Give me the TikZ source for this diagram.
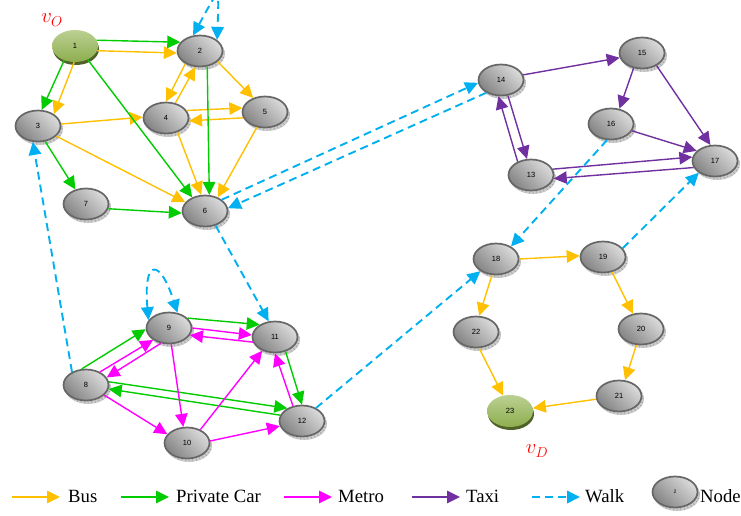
\documentclass[tikz,border=0pt]{standalone}
\usepackage{fontspec}
\setmainfont{Liberation Serif}
\newfontfamily\numfont{Liberation Sans}
\usetikzlibrary{arrows.meta,shapes.geometric}
\definecolor{busc}{HTML}{FFC000}
\definecolor{carc}{HTML}{00CC00}
\definecolor{metroc}{HTML}{FF00FF}
\definecolor{taxic}{HTML}{7030A0}
\definecolor{walkc}{HTML}{00B0F0}
\definecolor{greentop}{HTML}{BBD092}
\definecolor{greenbot}{HTML}{8DAE4E}
\definecolor{greenrim}{HTML}{4F6228}
\definecolor{rimc}{HTML}{666666}
\tikzset{
  x=1pt,y=-1pt,
  station/.style={ellipse,minimum width=45pt,minimum height=31pt,inner sep=0pt,draw=rimc,line width=1.7pt,
    left color=black!14,right color=black!48,shading angle=-45,font=\numfont\fontsize{7.5}{8}\selectfont,text=black},
  terminal/.style={ellipse,minimum width=46pt,minimum height=32pt,inner sep=0pt,
    top color=greentop,bottom color=greenbot,font=\numfont\fontsize{7.5}{8}\selectfont,text=black},
  plate/.style={fill=black!20},
  platetick/.style={draw=black!38,line width=2pt,dash pattern=on .6pt off 3pt},
  termplate/.style={fill=greenrim},
  link/.style={-{Triangle[length=13pt,width=12.5pt]},line width=1.4pt},
  bus/.style={link,draw=busc},
  car/.style={link,draw=carc},
  metro/.style={link,draw=metroc},
  taxi/.style={link,draw=taxic},
  walk/.style={link,draw=walkc,line width=1.9pt,dash pattern=on 8pt off 5pt},
  walkloop/.style={walk,{Triangle[length=13pt,width=12.5pt]}-{Triangle[length=13pt,width=12.5pt]}},
  legendtext/.style={anchor=west,inner sep=0pt,font=\fontsize{18.7}{20}\selectfont},
  vlabel/.style={text=red,inner sep=0pt,font=\fontsize{22}{24}\selectfont},
}
\begin{document}
\begin{tikzpicture}
\useasboundingbox (0,0) rectangle (741,516);
\clip (0,0) rectangle (741,516);
% plates under the nodes
\foreach \x/\y in {200/51,38/126,166/118,265/112,205/211,86/204,86/385,169/328,187/443,275/337,302/421,531/175,501/80,642/53,611/124,715/161,496/259,603/257,641/329,619/396,476/332,675/492}{
  \fill[plate] (\x+2,\y+3) ellipse [x radius=23,y radius=16];
  \draw[platetick] (\x+2,\y+2.5) ellipse [x radius=22,y radius=15];
}
\foreach \x/\y in {75/46,510/411}
  \fill[termplate] (\x+1,\y+3) ellipse [x radius=23,y radius=16];
% nodes
\foreach \n/\x/\y in {2/200/51,3/38/126,4/166/118,5/265/112,6/205/211,7/86/204,8/86/385,9/169/328,10/187/443,11/275/337,12/302/421,13/531/175,14/501/80,15/642/53,16/611/124,17/715/161,18/496/259,19/603/257,20/641/329,21/619/396,22/476/332}
  \node[station] (n\n) at (\x,\y) {\n};
\node[terminal] (n1) at (75,46) {1};
\node[terminal] (n23) at (510,411) {23};
\node[vlabel] (vo) at (52,20) {$v_O$};
\node[vlabel] (vd) at (537,451) {$v_D$};
% bus
\draw[bus] (n1.-12) -- (n2.185);
\draw[bus] (n1.267) -- (n3.37);
\draw[bus] (n2.-31) -- (n5.130);
\draw[bus] (n2.221) -- (n4.90);
\draw[bus] (n4.58) -- (n2.254);
\draw[bus] (n3.5) -- (n4.178);
\draw[bus] (n4.20) -- (n5.170);
\draw[bus] (n5.195) -- (n4.-7);
\draw[bus] (n3.-29) -- (n6.156);
\draw[bus] (n4.-51) -- (n6.103);
\draw[bus] (n5.242) -- (n6.47);
\draw[bus] (n18.0) -- (n19.177);
\draw[bus] (n19.-59) -- (n20.118);
\draw[bus] (n20.254) -- (n21.69);
\draw[bus] (n21.188) -- (n23.7);
\draw[bus] (n18.256) -- (n22.79);
\draw[bus] (n22.-79) -- (n23.114);
% private car
\draw[car] (n1.15) -- (n2.156);
\draw[car] (n1.233) -- (n3.77);
\draw[car] (n1.-47) -- (n6.133);
\draw[car] (n2.-65) -- (n6.75);
\draw[car] (n3.-65) -- (n7.126);
\draw[car] (n7.-12) -- (n6.185);
\draw[car] (n9.28) -- (n11.141);
\draw[car] (n8.105) -- (n9.183);
\draw[car] (n8.8) -- (n12.139);
\draw[car] (n12.165) -- (n8.-10);
\draw[car] (n11.-54) -- (n12.90);
% metro
\draw[metro] (n9.0) -- (n11.175);
\draw[metro] (n11.193) -- (n9.-19);
\draw[metro] (n8.43) -- (n9.217);
\draw[metro] (n9.242) -- (n8.20);
\draw[metro] (n9.-82) -- (n10.103);
\draw[metro] (n8.-29) -- (n10.156);
\draw[metro] (n10.45) -- (n11.227);
\draw[metro] (n10.5) -- (n12.193);
\draw[metro] (n12.121) -- (n11.270);
% taxi
\draw[taxi] (n14.13) -- (n15.192);
\draw[taxi] (n14.-66) -- (n13.104);
\draw[taxi] (n13.135) -- (n14.261);
\draw[taxi] (n15.241) -- (n16.61);
\draw[taxi] (n15.-41) -- (n17.106);
\draw[taxi] (n16.-18) -- (n17.151);
\draw[taxi] (n13.15) -- (n17.170);
\draw[taxi] (n17.197) -- (n13.-9);
% walk
\draw[walk] (n8.137) -- (n3.252);
\draw[walk] (n6.34) -- (n14.187);
\draw[walk] (n14.221) -- (n6.7);
\draw[walk] (n6.-54) -- (n11.112);
\draw[walk] (n12.43) -- (n18.218);
\draw[walk] (n16.256) -- (n18.40);
\draw[walk] (n19.24) -- (n17.216);
\draw[walkloop] (n2.114) .. controls (220,-14) and (219,-14) .. (n2.33);
\draw[walkloop] (n9.159) .. controls (143,258) and (160,258) .. (n9.61);
% legend
\coordinate (la) at (12,497); \coordinate (lb) at (60,497);
\coordinate (lc) at (121,497); \coordinate (ld) at (169,497);
\coordinate (le) at (284,497); \coordinate (lf) at (332,497);
\coordinate (lg) at (412,497); \coordinate (lh) at (460,497);
\coordinate (li) at (532,497); \coordinate (lj) at (580,497);
\draw[bus] (la) -- (lb);
\draw[car] (lc) -- (ld);
\draw[metro] (le) -- (lf);
\draw[taxi] (lg) -- (lh);
\draw[walk] (li) -- (lj);
\node[legendtext] (tbus) at (68,496) {Bus};
\node[legendtext] (tcar) at (176,496) {Private Car};
\node[legendtext] (tmetro) at (338,496) {Metro};
\node[legendtext] (ttaxi) at (466,496) {Taxi};
\node[legendtext] (twalk) at (585,496) {Walk};
\node[station,font=\numfont\fontsize{5}{6}\selectfont] (nkey) at (675,492) {2};
\node[legendtext] (tnode) at (700,496) {Node};
\end{tikzpicture}
\end{document}
